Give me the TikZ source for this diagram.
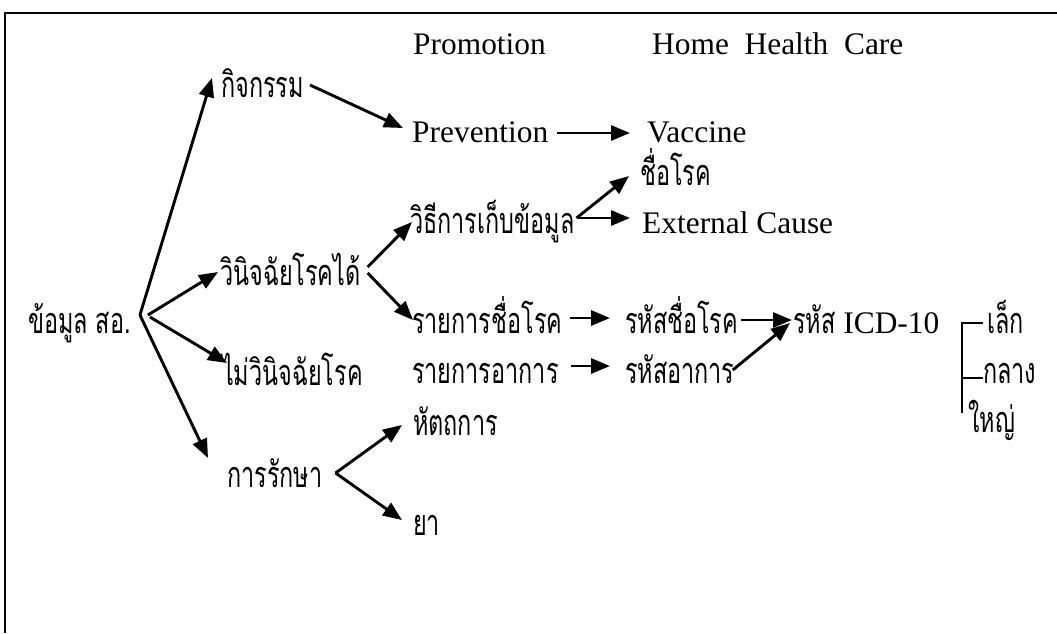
\documentclass[tikz,border=0pt]{standalone}
\usepackage{fontspec}
\setmainfont{Liberation Serif}
\newfontfamily\thaifont[Script=Thai,FakeStretch=0.65]{Loma}
\usetikzlibrary{arrows.meta}

\begin{document}
\begin{tikzpicture}[x=1pt, y=-1pt,
    lbl/.style={anchor=base west, inner sep=0pt},
    th/.style={lbl, font=\thaifont\fontsize{36}{42}\selectfont},
    en/.style={lbl, font=\fontsize{31.4}{36}\selectfont},
    arrow/.style={-{Triangle[length=19pt,width=15pt]}, line width=2.9pt}
]
    \useasboundingbox (0,0) rectangle (1057,633);
    \draw[line width=2.8pt] (1057,13) -- (5,13) -- (5,633);

    % headings
    \node[en] (prom) at (413,54) {Promotion};
    \node[en] (hhc) at (652,54) {Home\ \ Health\ \ Care};

    % first level
    \node[th] (src) at (28,333) {ข้อมูล สอ.};
    \node[th] (act) at (221,97) {กิจกรรม};
    \node[th] (dx) at (220,285) {วินิจฉัยโรคได้};
    \node[th] (ndx) at (222,385) {ไม่วินิจฉัยโรค};
    \node[th] (trt) at (227,487) {การรักษา};

    % second level
    \node[en] (prev) at (412,142) {Prevention};
    \node[th] (meth) at (410,233) {วิธีการเก็บข้อมูล};
    \node[th] (dlist) at (412,333) {รายการชื่อโรค};
    \node[th] (slist) at (412,383) {รายการอาการ};
    \node[th] (proc) at (413,435) {หัตถการ};
    \node[th] (drug) at (413,535) {ยา};

    % third level
    \node[en] (vac) at (647,142) {Vaccine};
    \node[th] (dname) at (640,185) {ชื่อโรค};
    \node[en] (ext) at (642,233) {External Cause};
    \node[th] (dcode) at (625,333) {รหัสชื่อโรค};
    \node[th] (scode) at (625,383) {รหัสอาการ};
    \node[th] (icd) at (793,333) {รหัส {\rmfamily\fontsize{31.4}{36}\selectfont ICD-10}};
    \node[th] (small) at (987,333) {เล็ก};
    \node[th] (mid) at (983,383) {กลาง};
    \node[th] (big) at (968,432) {ใหญ่};

    \draw[arrow] ([xshift=9pt,yshift=18pt]src.base east) -- ([xshift=-9pt,yshift=19pt]act.base west);
    \draw[arrow] ([xshift=17pt,yshift=18pt]src.base east) -- ([xshift=-2pt,yshift=13pt]dx.base west);
    \draw[arrow] ([xshift=19pt,yshift=16pt]src.base east) -- ([xshift=5pt,yshift=22pt]ndx.base west);
    \draw[arrow] ([xshift=9pt,yshift=18pt]src.base east) -- ([xshift=-19pt,yshift=29pt]trt.base west);

    \draw[arrow] ([xshift=6pt,yshift=12pt]act.base east) -- ([xshift=-9pt,yshift=14pt]prev.base west);
    \draw[arrow] ([xshift=9pt,yshift=9pt]prev.base east) -- ([xshift=-17pt,yshift=9pt]vac.base west);

    \draw[arrow] ([xshift=7pt,yshift=18pt]dx.base east) -- ([xshift=2pt,yshift=11pt]meth.base west);
    \draw[arrow] ([xshift=7pt,yshift=12pt]dx.base east) -- ([xshift=1pt,yshift=13pt]dlist.base west);
    \draw[arrow] ([xshift=2pt,yshift=15pt]meth.base east) -- ([xshift=-11pt,yshift=9pt]dname.base west);
    \draw[arrow] ([xshift=2pt,yshift=15pt]meth.base east) -- ([xshift=-12pt,yshift=15pt]ext.base west);

    \draw[arrow] ([xshift=8pt,yshift=15pt]dlist.base east) -- ([xshift=-15pt,yshift=15pt]dcode.base west);
    \draw[arrow] ([xshift=12pt,yshift=17pt]slist.base east) -- ([xshift=-15pt,yshift=17pt]scode.base west);
    \draw[arrow] ([xshift=3pt,yshift=13pt]dcode.base east) -- ([xshift=-1pt,yshift=13pt]icd.base west);
    \draw[arrow] ([xshift=-2pt,yshift=13pt]scode.base east) -- ([xshift=-3pt,yshift=10pt]icd.base west);

    \draw[arrow] ([xshift=13pt,yshift=14pt]trt.base east) -- ([xshift=-11pt,yshift=10pt]proc.base west);
    \draw[arrow] ([xshift=13pt,yshift=14pt]trt.base east) -- ([xshift=-11pt,yshift=15pt]drug.base west);

    % size bracket
    \draw[line width=2.2pt] ([xshift=-4pt,yshift=10pt]small.base west) -- ++(-21,0) -- ++(0,90);
    \draw[line width=2.2pt] ([yshift=5pt]mid.base west) -- ++(-21,0);
\end{tikzpicture}
\end{document}
